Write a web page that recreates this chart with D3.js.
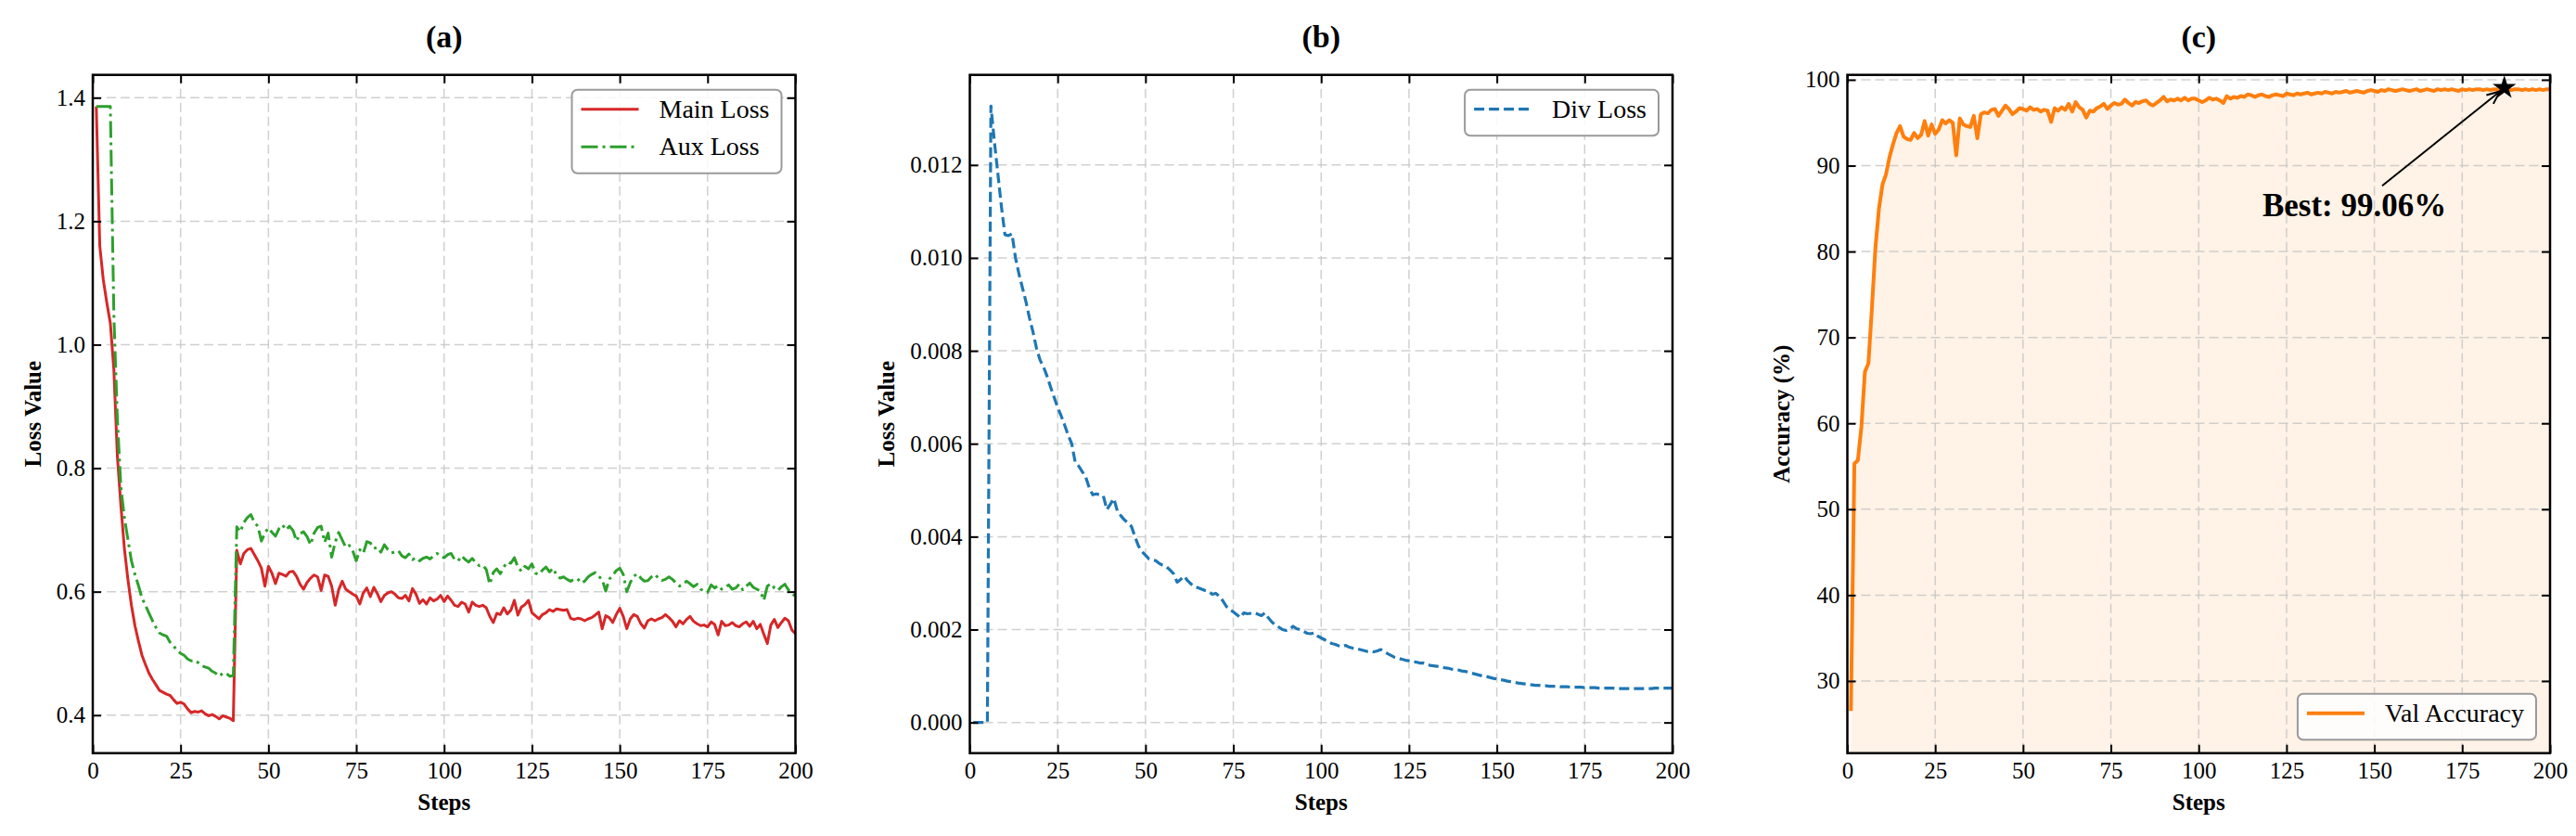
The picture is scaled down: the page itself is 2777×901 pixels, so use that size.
<!DOCTYPE html>
<html>
<head>
<meta charset="utf-8">
<script src="https://cdn.jsdelivr.net/npm/d3@7"></script>
<style>
  html, body { margin: 0; padding: 0; background: #fff; }
  svg { display: block; font-family: "Liberation Serif", "Times New Roman", serif; }
  svg text { font-family: "Liberation Serif", "Times New Roman", serif; }
</style>
</head>
<body>
<svg id="chart"></svg>
<script>
// ---- data ----
const steps = d3.range(1, 201);

const mainLoss = [
  1.386,1.160,1.105,1.068,1.035,0.960,0.820,0.740,0.670,0.620,
  0.578,0.545,0.520,0.497,0.482,0.468,0.458,0.449,0.440,0.437,
  0.434,0.432,0.425,0.419,0.421,0.418,0.410,0.404,0.406,0.405,
  0.407,0.402,0.399,0.401,0.398,0.394,0.399,0.397,0.395,0.391,
  0.667,0.645,0.662,0.668,0.670,0.660,0.650,0.638,0.609,0.641,
  0.630,0.613,0.630,0.628,0.625,0.632,0.633,0.625,0.612,0.604,
  0.615,0.622,0.627,0.624,0.602,0.627,0.625,0.609,0.578,0.603,
  0.617,0.604,0.600,0.596,0.593,0.580,0.598,0.606,0.592,0.607,
  0.597,0.584,0.594,0.598,0.600,0.596,0.590,0.589,0.594,0.585,
  0.605,0.596,0.581,0.587,0.580,0.590,0.585,0.588,0.594,0.584,
  0.593,0.586,0.578,0.576,0.583,0.580,0.567,0.583,0.578,0.576,
  0.578,0.574,0.560,0.550,0.565,0.563,0.574,0.564,0.570,0.586,
  0.562,0.575,0.579,0.586,0.566,0.561,0.556,0.563,0.566,0.571,
  0.568,0.572,0.571,0.570,0.571,0.557,0.555,0.557,0.556,0.553,
  0.556,0.558,0.562,0.567,0.540,0.561,0.558,0.550,0.563,0.573,
  0.560,0.540,0.556,0.563,0.560,0.548,0.541,0.553,0.556,0.553,
  0.556,0.558,0.563,0.558,0.552,0.543,0.553,0.548,0.555,0.560,
  0.552,0.548,0.545,0.546,0.543,0.551,0.547,0.530,0.552,0.545,
  0.546,0.550,0.545,0.543,0.548,0.551,0.544,0.552,0.540,0.547,
  0.531,0.516,0.546,0.555,0.542,0.550,0.557,0.553,0.538,0.532
];

const auxLoss = [
  1.386,1.386,1.386,1.386,1.386,1.050,0.880,0.770,0.720,0.685,
  0.650,0.628,0.610,0.590,0.578,0.565,0.553,0.542,0.533,0.530,
  0.528,0.518,0.512,0.505,0.500,0.497,0.491,0.488,0.489,0.485,
  0.480,0.478,0.476,0.471,0.468,0.463,0.468,0.468,0.463,0.464,
  0.705,0.697,0.712,0.720,0.725,0.712,0.706,0.682,0.695,0.703,
  0.696,0.690,0.702,0.708,0.700,0.706,0.699,0.682,0.694,0.697,
  0.689,0.676,0.695,0.704,0.706,0.680,0.695,0.656,0.680,0.696,
  0.684,0.672,0.675,0.666,0.650,0.668,0.662,0.681,0.679,0.670,
  0.672,0.664,0.676,0.668,0.663,0.664,0.666,0.658,0.655,0.661,
  0.652,0.655,0.650,0.654,0.656,0.653,0.658,0.662,0.657,0.655,
  0.660,0.662,0.652,0.650,0.658,0.652,0.648,0.654,0.647,0.642,
  0.643,0.636,0.612,0.631,0.637,0.629,0.640,0.648,0.646,0.655,
  0.640,0.633,0.641,0.637,0.645,0.630,0.628,0.635,0.640,0.632,
  0.638,0.627,0.622,0.624,0.620,0.617,0.620,0.621,0.614,0.617,
  0.624,0.628,0.631,0.625,0.620,0.601,0.620,0.627,0.634,0.638,
  0.628,0.600,0.615,0.625,0.629,0.622,0.617,0.618,0.624,0.628,
  0.622,0.618,0.620,0.624,0.620,0.614,0.609,0.612,0.617,0.613,
  0.608,0.612,0.604,0.601,0.599,0.611,0.606,0.610,0.604,0.607,
  0.611,0.604,0.606,0.612,0.603,0.609,0.614,0.607,0.604,0.601,
  0.586,0.609,0.613,0.606,0.602,0.608,0.612,0.603,0.598,0.592
];

const divLoss = [
  0,0,0,0,0,0.01327,0.01250,0.01180,0.01110,0.01050,
  0.01048,0.01052,0.01000,0.00965,0.00935,0.00905,0.00870,0.00840,0.00805,0.00780,
  0.00765,0.00745,0.00722,0.00700,0.00678,0.00660,0.00640,0.00618,0.00600,0.00560,
  0.00552,0.00540,0.00528,0.00505,0.00490,0.00492,0.00490,0.00488,0.00458,0.00470,
  0.00482,0.00455,0.00445,0.00436,0.00430,0.00422,0.00400,0.00380,0.00368,0.00360,
  0.00352,0.00350,0.00348,0.00342,0.00338,0.00335,0.00328,0.00320,0.00302,0.00308,
  0.00315,0.00305,0.00298,0.00292,0.00290,0.00287,0.00284,0.00282,0.00276,0.00278,
  0.00272,0.00262,0.00250,0.00243,0.00238,0.00232,0.00226,0.00236,0.00234,0.00235,
  0.00236,0.00233,0.00230,0.00236,0.00225,0.00216,0.00210,0.00205,0.00200,0.00198,
  0.00200,0.00207,0.00202,0.00200,0.00196,0.00192,0.00191,0.00193,0.00186,0.00182,
  0.00178,0.00174,0.00170,0.00168,0.00165,0.00163,0.00166,0.00162,0.00160,0.00159,
  0.00157,0.00155,0.00153,0.00154,0.00152,0.00154,0.00157,0.00152,0.00148,0.00144,
  0.00140,0.00138,0.00136,0.00134,0.00133,0.00131,0.00130,0.00128,0.00128,0.00125,
  0.00123,0.00122,0.00121,0.00120,0.00118,0.00117,0.00115,0.00114,0.00113,0.00111,
  0.00110,0.00108,0.00106,0.00104,0.00102,0.00100,0.00099,0.00097,0.00095,0.00094,
  0.00092,0.00091,0.00089,0.00088,0.00087,0.00085,0.00084,0.00083,0.00082,0.00081,
  0.00080,0.00080,0.00079,0.00079,0.00078,0.00078,0.00078,0.00077,0.00077,0.00077,
  0.00076,0.00076,0.00076,0.00076,0.00075,0.00075,0.00075,0.00075,0.00074,0.00074,
  0.00074,0.00074,0.00074,0.00073,0.00073,0.00073,0.00073,0.00073,0.00073,0.00073,
  0.00073,0.00073,0.00073,0.00073,0.00074,0.00074,0.00074,0.00074,0.00074,0.00074
];

const valAcc = [
  26.5,55.3,55.7,59.6,66.0,67.0,73.5,80.5,85.0,87.8,
  89.0,91.0,92.5,93.8,94.6,93.4,93.1,93.0,93.8,93.2,
  93.6,95.2,93.5,94.8,93.7,94.2,95.3,94.9,95.3,95.0,
  91.2,95.5,94.8,94.6,94.5,95.8,93.2,96.0,96.2,96.1,
  96.5,96.6,95.8,96.4,97.0,96.6,96.0,96.3,96.7,96.6,
  96.4,96.8,96.5,96.6,96.3,96.5,96.4,95.1,96.7,96.4,
  96.8,96.5,97.2,96.3,97.4,96.8,96.5,95.6,96.4,96.3,
  96.7,96.9,97.2,96.6,97.0,97.3,97.1,97.2,97.7,97.3,
  97.0,97.4,97.3,97.5,97.6,97.2,97.0,97.3,97.6,98.0,
  97.5,97.7,97.6,97.8,97.6,97.9,97.6,97.8,97.8,97.6,
  97.4,97.6,97.9,97.7,97.8,97.6,97.3,98.1,97.8,98.0,
  97.9,98.1,98.0,98.3,98.2,98.0,98.2,98.3,98.1,98.0,
  98.2,98.3,98.2,98.1,98.4,98.3,98.2,98.4,98.3,98.4,
  98.5,98.3,98.4,98.5,98.4,98.6,98.5,98.4,98.6,98.5,
  98.6,98.7,98.5,98.6,98.7,98.6,98.5,98.7,98.8,98.7,
  98.6,98.8,98.7,98.9,98.8,98.7,98.8,98.9,98.8,98.7,
  98.8,98.9,98.7,98.8,98.9,98.8,98.7,98.9,98.8,98.9,
  98.8,98.9,98.8,98.7,98.9,98.8,98.9,98.8,98.9,98.9,
  98.8,98.9,98.8,98.9,98.9,98.8,99.06,98.9,98.8,98.9,
  98.9,98.8,98.9,98.8,98.9,98.8,98.9,98.8,98.9,98.9
];

// tick labels
const stepTicks = [0, 25, 50, 75, 100, 125, 150, 175, 200];
const lossTicks = [0.4, 0.6, 0.8, 1.0, 1.2, 1.4];
const divTicks = [0.000, 0.002, 0.004, 0.006, 0.008, 0.010, 0.012];
const accTicks = [30, 40, 50, 60, 70, 80, 90, 100];

// annotation text anchor (data coords in panel c)
const bestLabelAt = [144.3, 84.1];

// ---- layout ----
const W = 2777, H = 901;
const plotTop = 80.7, plotH = 731, plotW = 757.5;
const serif = '"Liberation Serif", "Times New Roman", serif';
const svg = d3.select("#chart").attr("width", W).attr("height", H);

svg.append("defs").append("marker")
    .attr("id", "arrowhead")
    .attr("markerUnits", "userSpaceOnUse")
    .attr("viewBox", "0 0 16 14")
    .attr("refX", 15).attr("refY", 7)
    .attr("markerWidth", 16).attr("markerHeight", 14)
    .attr("orient", "auto")
    .append("path")
    .attr("d", "M1,1 L15,7 L1,13")
    .attr("fill", "none")
    .attr("stroke", "#000")
    .attr("stroke-width", 2);

function drawPanel(p) {
    const x = d3.scaleLinear().domain([0, 200]).range([p.left, p.left + plotW]);
    const y = d3.scaleLinear().domain(p.yDomain).range([plotTop + plotH, plotTop]);
    const g = svg.append("g");
    const bottom = plotTop + plotH, right = p.left + plotW;

    // filled area under the curve
    if (p.fill) {
        const area = d3.area()
            .x((d, i) => x(steps[i]))
            .y0(bottom)
            .y1(d => y(d));
        g.append("path")
            .datum(p.series[0].values)
            .attr("fill", p.fill)
            .attr("fill-opacity", 0.1)
            .attr("d", area);
    }

    // dashed grid
    const grid = g.append("g")
        .attr("stroke", "#c4c4c4")
        .attr("stroke-opacity", 0.8)
        .attr("stroke-width", 1.5)
        .attr("stroke-dasharray", "10,5");
    grid.selectAll(".gx").data(stepTicks.filter(t => t > 0 && t < 200)).enter()
        .append("line")
        .attr("x1", d => x(d)).attr("x2", d => x(d))
        .attr("y1", plotTop).attr("y2", bottom);
    grid.selectAll(".gy").data(p.yTicks).enter()
        .append("line")
        .attr("x1", p.left).attr("x2", right)
        .attr("y1", d => y(d)).attr("y2", d => y(d));

    // series lines
    p.series.forEach(s => {
        const line = d3.line()
            .x((d, i) => x(steps[i]))
            .y(d => y(d));
        g.append("path")
            .datum(s.values)
            .attr("fill", "none")
            .attr("stroke", s.color)
            .attr("stroke-width", s.width)
            .attr("stroke-linejoin", "round")
            .attr("stroke-dasharray", s.dash)
            .attr("d", line);
    });

    // axes, ticks pointing inward on all sides
    const styleAxis = sel => {
        sel.attr("font-family", serif).attr("font-size", 25);
        sel.select(".domain").remove();
        sel.selectAll(".tick line").attr("stroke", "#000").attr("stroke-width", 2);
        sel.selectAll(".tick text")
            .attr("fill", "#000")
            .style("font-family", serif)
            .style("font-size", "25px");
    };

    g.append("g")
        .attr("transform", `translate(0,${bottom})`)
        .call(d3.axisBottom(x).tickValues(stepTicks).tickSizeInner(-9).tickSizeOuter(0).tickPadding(10))
        .call(styleAxis);
    g.append("g")
        .attr("transform", `translate(0,${plotTop})`)
        .call(d3.axisTop(x).tickValues(stepTicks).tickSizeInner(-9).tickSizeOuter(0).tickFormat(""))
        .call(styleAxis);
    const yAxisG = g.append("g")
        .attr("transform", `translate(${p.left},0)`)
        .call(d3.axisLeft(y).tickValues(p.yTicks).tickSizeInner(-9).tickSizeOuter(0)
            .tickPadding(8).tickFormat(d3.format(p.yFormat)))
        .call(styleAxis);
    g.append("g")
        .attr("transform", `translate(${right},0)`)
        .call(d3.axisRight(y).tickValues(p.yTicks).tickSizeInner(-9).tickSizeOuter(0).tickFormat(""))
        .call(styleAxis);

    // frame
    g.append("rect")
        .attr("x", p.left).attr("y", plotTop)
        .attr("width", plotW).attr("height", plotH)
        .attr("fill", "none")
        .attr("stroke", "#000")
        .attr("stroke-width", 2.5);

    // labels and title
    g.append("text")
        .attr("x", p.left + plotW / 2)
        .attr("y", 873)
        .attr("text-anchor", "middle")
        .style("font-size", "25px")
        .style("font-weight", "bold")
        .text("Steps");

    const bb = yAxisG.node().getBBox();
    const labelX = p.left + bb.x - 17;
    g.append("text")
        .attr("transform", `translate(${labelX},${plotTop + plotH / 2}) rotate(-90)`)
        .attr("text-anchor", "middle")
        .style("font-size", "25px")
        .style("font-weight", "bold")
        .text(p.yLabel);

    g.append("text")
        .attr("x", p.left + plotW / 2)
        .attr("y", 51)
        .attr("text-anchor", "middle")
        .style("font-size", "34px")
        .style("font-weight", "bold")
        .text(p.title);

    // legend
    const n = p.series.length;
    const boxH = 40.5 * (n - 1) + 49.5;
    const leg = g.append("g");
    const boxRect = leg.append("rect")
        .attr("rx", 6).attr("ry", 6)
        .attr("fill", "#fff")
        .attr("fill-opacity", 0.85)
        .attr("stroke", "#9a9a9a")
        .attr("stroke-width", 2);
    let maxW = 0;
    p.series.forEach((s, i) => {
        leg.append("line")
            .attr("x1", 10).attr("x2", 72)
            .attr("y1", 21 + i * 40.5).attr("y2", 21 + i * 40.5)
            .attr("stroke", s.color)
            .attr("stroke-width", s.width)
            .attr("stroke-dasharray", s.dash);
        const t = leg.append("text")
            .attr("x", 94)
            .attr("y", 21 + i * 40.5)
            .attr("dy", "0.33em")
            .style("font-size", "28px")
            .text(s.name);
        maxW = Math.max(maxW, t.node().getComputedTextLength());
    });
    const boxW = 94 + maxW + 13;
    boxRect.attr("width", boxW).attr("height", boxH);
    const lx = right - 15 - boxW;
    const ly = p.legendPos === "br" ? bottom - 14.5 - boxH : plotTop + 16;
    leg.attr("transform", `translate(${lx},${ly})`);

    return {x, y, g};
}

drawPanel({
    left: 100, title: "(a)", yLabel: "Loss Value",
    yDomain: [0.3385, 1.437], yTicks: lossTicks, yFormat: ".1f",
    legendPos: "tr",
    series: [
        {name: "Main Loss", values: mainLoss, color: "#d62728", width: 3, dash: null},
        {name: "Aux Loss", values: auxLoss, color: "#2ca02c", width: 3, dash: "18,5,3,5"}
    ]
});

drawPanel({
    left: 1045.5, title: "(b)", yLabel: "Loss Value",
    yDomain: [-0.00066, 0.01394], yTicks: divTicks, yFormat: ".3f",
    legendPos: "tr",
    series: [
        {name: "Div Loss", values: divLoss, color: "#1f77b4", width: 3.2, dash: "11,5"}
    ]
});

const pc = drawPanel({
    left: 1991.5, title: "(c)", yLabel: "Accuracy (%)",
    yDomain: [21.6, 100.57], yTicks: accTicks, yFormat: "d",
    legendPos: "br", fill: "#ff7f0e",
    series: [
        {name: "Val Accuracy", values: valAcc, color: "#ff7f0e", width: 4, dash: null}
    ]
});

// best accuracy marker and annotation
const bestIdx = d3.maxIndex(valAcc);
const bx = pc.x(steps[bestIdx]), by = pc.y(valAcc[bestIdx]);
const tx = pc.x(bestLabelAt[0]), ty = pc.y(bestLabelAt[1]);

const sx = tx + 30, sy = ty - 33;
const dx = bx - sx, dy = by - sy, len = Math.hypot(dx, dy);
pc.g.append("line")
    .attr("x1", sx).attr("y1", sy)
    .attr("x2", bx - dx / len * 6).attr("y2", by - dy / len * 6)
    .attr("stroke", "#000")
    .attr("stroke-width", 2)
    .attr("marker-end", "url(#arrowhead)");

pc.g.append("path")
    .attr("transform", `translate(${bx},${by})`)
    .attr("d", d3.symbol().type(d3.symbolStar).size(200)())
    .attr("fill", "#000");

pc.g.append("text")
    .attr("x", tx).attr("y", ty)
    .attr("text-anchor", "middle")
    .style("font-size", "35px")
    .style("font-weight", "bold")
    .text(`Best: ${valAcc[bestIdx].toFixed(2)}%`);
</script>
</body>
</html>
